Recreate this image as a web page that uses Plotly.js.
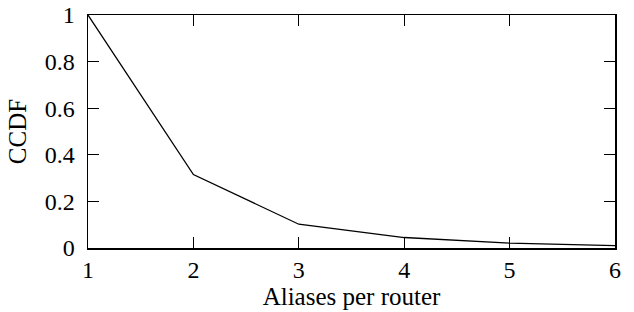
<!DOCTYPE html>
<html><head><meta charset="utf-8">
<script src="https://cdn.plot.ly/plotly-3.0.1.min.js"></script>
<style>html,body{margin:0;padding:0;background:#fff}</style>
</head><body><div id="c" style="width:634px;height:312px"></div>
<script>
const aliases = [1, 2, 3, 4, 5, 6];
const ccdf = [1.0, 0.315, 0.102, 0.045, 0.021, 0.01];
const xTicks = [1, 2, 3, 4, 5, 6];
const yTicks = [0, 0.2, 0.4, 0.6, 0.8, 1];
const yTickText = ['0', '0.2', '0.4', '0.6', '0.8', '1'];

const fam = '"Liberation Serif", "Times New Roman", Times, serif';
const font = {family: fam, size: 24, color: '#000'};
const titleFont = {family: fam, size: 25, color: '#000'};
Plotly.newPlot('c', [{
  x: aliases, y: ccdf, type: 'scatter', mode: 'lines',
  line: {color: '#000', width: 1.3}
}], {
  width: 634, height: 312,
  margin: {l: 88, r: 19, t: 15, b: 64},
  paper_bgcolor: '#fff', plot_bgcolor: '#fff',
  font: font,
  showlegend: false,
  xaxis: {
    range: [1, 6], tickvals: xTicks, ticktext: xTicks.map(String),
    ticks: 'inside', ticklen: 11, tickwidth: 1.3, tickcolor: '#000',
    showline: true, linecolor: '#000', linewidth: 1.5, mirror: 'ticks',
    showgrid: false, zeroline: false,
    tickfont: font,
    title: {text: 'Aliases per router', font: titleFont, standoff: 5}
  },
  yaxis: {
    range: [0, 1], tickvals: yTicks, ticktext: yTickText,
    ticks: 'inside', ticklen: 11, tickwidth: 1.3, tickcolor: '#000',
    showline: true, linecolor: '#000', linewidth: 1.5, mirror: 'ticks',
    showgrid: false, zeroline: false,
    tickfont: font, ticklabelstandoff: 7,
    title: {text: 'CCDF', font: titleFont, standoff: 11}
  }
}, {staticPlot: true, displayModeBar: false});
</script></body></html>
